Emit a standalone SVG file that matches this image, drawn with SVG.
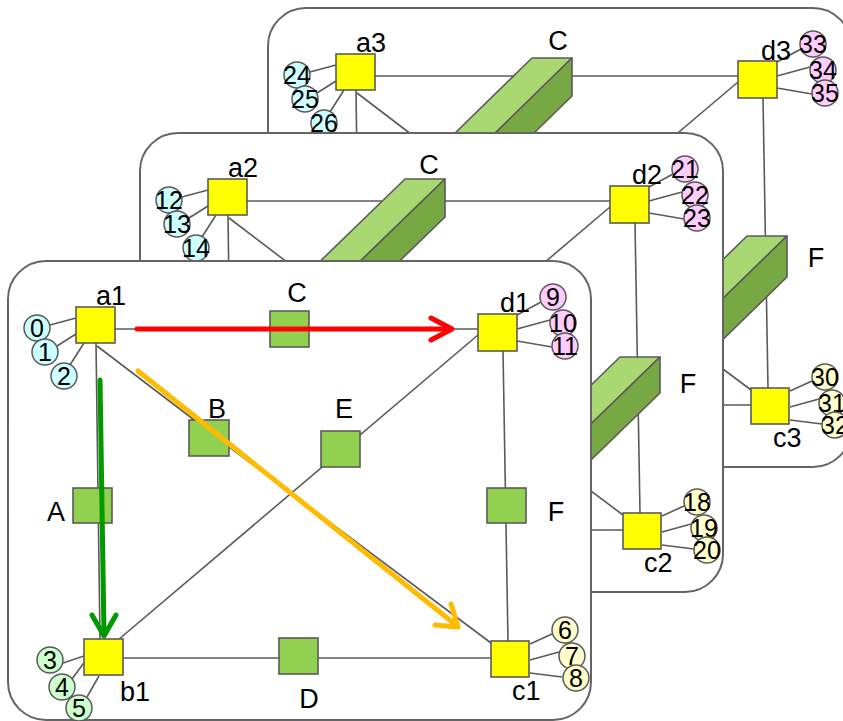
<svg xmlns="http://www.w3.org/2000/svg" width="843" height="721" viewBox="0 0 843 721">
  <style>
    .panel { fill: #ffffff; stroke: #646464; stroke-width: 2; }
    .link { stroke: #5a5a5a; stroke-width: 1.6; fill: none; }
    .sw { fill: #ffff00; stroke: #5a5a5a; stroke-width: 1.6; }
    .blk { fill: #92d050; stroke: #5a5a5a; stroke-width: 1.6; }
    .top { fill: #a9d872; stroke: #5a5a5a; stroke-width: 1.6; stroke-linejoin: round; }
    .side { fill: #77a843; stroke: #5a5a5a; stroke-width: 1.6; stroke-linejoin: round; }
    .host { stroke: #5a5a5a; stroke-width: 1.5; }
    .cy { fill: #ccffff; } .gr { fill: #ccffcc; } .pk { fill: #ffccff; } .yl { fill: #ffffcc; }
    text { font-family: "Liberation Sans", Arial, sans-serif; fill: #000; }
    .lbl { font-size: 27px; }
    .mid { text-anchor: middle; }
    .num { font-size: 25px; text-anchor: middle; }
    .flow { fill: none; stroke-width: 5; stroke-linecap: round; stroke-linejoin: round; }
  </style>

  <!-- ===== Plane 3 (rear) ===== -->
  <g id="plane3">
    <rect class="panel" x="268" y="8" width="583" height="459" rx="38"/>
    <g id="plane3-links">
      <line class="link" x1="375" y1="76" x2="738" y2="76"/>
      <line class="link" x1="356" y1="90" x2="360" y2="386"/>
      <line class="link" x1="357" y1="93" x2="470" y2="179"/>
      <line class="link" x1="480" y1="187" x2="751" y2="390"/>
      <line class="link" x1="738" y1="82" x2="378" y2="387"/>
      <line class="link" x1="763" y1="98" x2="768" y2="388"/>
      <line class="link" x1="383" y1="405" x2="751" y2="405"/>
      <line class="link" x1="310" y1="72" x2="336" y2="65"/>
      <line class="link" x1="317" y1="93" x2="336" y2="81"/>
      <line class="link" x1="330" y1="112" x2="344" y2="90"/>
      <line class="link" x1="777" y1="62" x2="801" y2="49"/>
      <line class="link" x1="777" y1="76" x2="810" y2="67"/>
      <line class="link" x1="777" y1="88" x2="812" y2="94"/>
      <line class="link" x1="790" y1="391" x2="812" y2="381"/>
      <line class="link" x1="790" y1="407" x2="819" y2="399"/>
      <line class="link" x1="790" y1="420" x2="822" y2="424"/>
    </g>
    <g id="C3">
      <polygon class="top" points="532,58 572,58 444,183 404,183"/>
      <polygon class="side" points="572,58 572,96 444,221 444,183"/>
      <text class="lbl mid" x="558" y="50">C</text>
    </g>
    <g id="F3">
      <polygon class="top" points="747,236 787,236 659,361 619,361"/>
      <polygon class="side" points="787,236 787,277 659,402 659,361"/>
      <text class="lbl mid" x="816" y="267">F</text>
    </g>
    <g id="a3"><rect class="sw" x="336" y="54" width="39" height="36"/><text class="lbl" x="356" y="52">a3</text></g>
    <g id="d3"><rect class="sw" x="738" y="61" width="39" height="37"/><text class="lbl" x="761" y="60">d3</text></g>
    <g id="c3"><rect class="sw" x="751" y="388" width="38" height="36"/><text class="lbl" x="773" y="447">c3</text></g>
    <g id="h24"><circle class="host cy" cx="297" cy="75" r="13"/><text class="num" x="297" y="84">24</text></g>
    <g id="h25"><circle class="host cy" cx="305" cy="99" r="13"/><text class="num" x="305" y="108">25</text></g>
    <g id="h26"><circle class="host cy" cx="324" cy="123" r="13"/><text class="num" x="324" y="132">26</text></g>
    <g id="h33"><circle class="host pk" cx="813" cy="44" r="13"/><text class="num" x="813" y="53">33</text></g>
    <g id="h34"><circle class="host pk" cx="823" cy="70" r="13"/><text class="num" x="823" y="79">34</text></g>
    <g id="h35"><circle class="host pk" cx="825" cy="93" r="13"/><text class="num" x="825" y="102">35</text></g>
    <g id="h30"><circle class="host yl" cx="825" cy="377" r="13"/><text class="num" x="825" y="386">30</text></g>
    <g id="h31"><circle class="host yl" cx="832" cy="403" r="13"/><text class="num" x="832" y="412">31</text></g>
    <g id="h32"><circle class="host yl" cx="835" cy="425" r="13"/><text class="num" x="835" y="434">32</text></g>
  </g>

  <!-- ===== Plane 2 (middle) ===== -->
  <g id="plane2">
    <rect class="panel" x="140" y="133" width="583" height="459" rx="38"/>
    <g id="plane2-links">
      <line class="link" x1="247" y1="201" x2="610" y2="201"/>
      <line class="link" x1="228" y1="215" x2="232" y2="511"/>
      <line class="link" x1="229" y1="218" x2="342" y2="304"/>
      <line class="link" x1="352" y1="312" x2="623" y2="515"/>
      <line class="link" x1="610" y1="207" x2="250" y2="512"/>
      <line class="link" x1="635" y1="223" x2="640" y2="513"/>
      <line class="link" x1="255" y1="530" x2="623" y2="530"/>
      <line class="link" x1="182" y1="197" x2="208" y2="190"/>
      <line class="link" x1="189" y1="218" x2="208" y2="206"/>
      <line class="link" x1="202" y1="237" x2="216" y2="215"/>
      <line class="link" x1="649" y1="187" x2="673" y2="174"/>
      <line class="link" x1="649" y1="201" x2="682" y2="192"/>
      <line class="link" x1="649" y1="213" x2="684" y2="219"/>
      <line class="link" x1="662" y1="516" x2="684" y2="506"/>
      <line class="link" x1="662" y1="532" x2="691" y2="524"/>
      <line class="link" x1="662" y1="545" x2="694" y2="549"/>
    </g>
    <g id="C2">
      <polygon class="top" points="405,179 445,179 313,307 273,307"/>
      <polygon class="side" points="445,179 445,217 313,345 313,307"/>
      <text class="lbl mid" x="429" y="174">C</text>
    </g>
    <g id="F2">
      <polygon class="top" points="620,357 660,357 528,485 488,485"/>
      <polygon class="side" points="660,357 660,393 528,521 528,485"/>
      <text class="lbl mid" x="688" y="393">F</text>
    </g>
    <g id="a2"><rect class="sw" x="208" y="179" width="39" height="36"/><text class="lbl" x="228" y="177">a2</text></g>
    <g id="d2"><rect class="sw" x="610" y="186" width="39" height="37"/><text class="lbl" x="632" y="184">d2</text></g>
    <g id="c2"><rect class="sw" x="623" y="513" width="38" height="36"/><text class="lbl" x="644" y="572">c2</text></g>
    <g id="h12"><circle class="host cy" cx="169" cy="200" r="13"/><text class="num" x="169" y="209">12</text></g>
    <g id="h13"><circle class="host cy" cx="177" cy="224" r="13"/><text class="num" x="177" y="233">13</text></g>
    <g id="h14"><circle class="host cy" cx="196" cy="248" r="13"/><text class="num" x="196" y="257">14</text></g>
    <g id="h21"><circle class="host pk" cx="685" cy="169" r="13"/><text class="num" x="685" y="178">21</text></g>
    <g id="h22"><circle class="host pk" cx="695" cy="195" r="13"/><text class="num" x="695" y="204">22</text></g>
    <g id="h23"><circle class="host pk" cx="697" cy="218" r="13"/><text class="num" x="697" y="227">23</text></g>
    <g id="h18"><circle class="host yl" cx="697" cy="502" r="13"/><text class="num" x="697" y="511">18</text></g>
    <g id="h19"><circle class="host yl" cx="704" cy="528" r="13"/><text class="num" x="704" y="537">19</text></g>
    <g id="h20"><circle class="host yl" cx="707" cy="550" r="13"/><text class="num" x="707" y="559">20</text></g>
  </g>

  <!-- ===== Plane 1 (front) ===== -->
  <g id="plane1">
    <rect class="panel" x="8" y="261" width="583" height="459" rx="38"/>
    <g id="plane1-links">
      <line class="link" x1="115" y1="329" x2="478" y2="329"/>
      <line class="link" x1="96" y1="343" x2="100" y2="639"/>
      <line class="link" x1="97" y1="346" x2="210" y2="432"/>
      <line class="link" x1="220" y1="440" x2="491" y2="643"/>
      <line class="link" x1="478" y1="335" x2="118" y2="640"/>
      <line class="link" x1="503" y1="351" x2="508" y2="641"/>
      <line class="link" x1="123" y1="658" x2="491" y2="658"/>
      <line class="link" x1="50" y1="325" x2="76" y2="318"/>
      <line class="link" x1="57" y1="346" x2="76" y2="334"/>
      <line class="link" x1="70" y1="365" x2="84" y2="343"/>
      <line class="link" x1="517" y1="315" x2="541" y2="302"/>
      <line class="link" x1="517" y1="329" x2="550" y2="320"/>
      <line class="link" x1="517" y1="341" x2="552" y2="347"/>
      <line class="link" x1="63" y1="663" x2="84" y2="656"/>
      <line class="link" x1="72" y1="679" x2="86" y2="660"/>
      <line class="link" x1="87" y1="697" x2="99" y2="676"/>
      <line class="link" x1="530" y1="644" x2="552" y2="634"/>
      <line class="link" x1="530" y1="660" x2="559" y2="652"/>
      <line class="link" x1="530" y1="673" x2="562" y2="677"/>
    </g>
    <g id="A"><rect class="blk" x="73" y="488" width="39" height="35"/><text class="lbl mid" x="56" y="521">A</text></g>
    <g id="B"><rect class="blk" x="189" y="420" width="40" height="36"/><text class="lbl mid" x="217" y="418">B</text></g>
    <g id="C1"><rect class="blk" x="270" y="311" width="39" height="36"/><text class="lbl mid" x="297" y="302">C</text></g>
    <g id="D"><rect class="blk" x="279" y="638" width="39" height="36"/><text class="lbl mid" x="309" y="708">D</text></g>
    <g id="E"><rect class="blk" x="321" y="431" width="39" height="36"/><text class="lbl mid" x="344" y="418">E</text></g>
    <g id="F1"><rect class="blk" x="487" y="488" width="39" height="35"/><text class="lbl mid" x="556" y="521">F</text></g>
    <g id="a1"><rect class="sw" x="76" y="307" width="39" height="36"/><text class="lbl" x="96" y="305">a1</text></g>
    <g id="d1"><rect class="sw" x="478" y="314" width="39" height="37"/><text class="lbl" x="500" y="312">d1</text></g>
    <g id="b1"><rect class="sw" x="84" y="639" width="39" height="36"/><text class="lbl" x="120" y="701">b1</text></g>
    <g id="c1"><rect class="sw" x="491" y="641" width="38" height="36"/><text class="lbl" x="512" y="700">c1</text></g>
    <g id="h0"><circle class="host cy" cx="37" cy="328" r="13"/><text class="num" x="37" y="337">0</text></g>
    <g id="h1"><circle class="host cy" cx="45" cy="352" r="13"/><text class="num" x="45" y="361">1</text></g>
    <g id="h2"><circle class="host cy" cx="64" cy="376" r="13"/><text class="num" x="64" y="385">2</text></g>
    <g id="h3"><circle class="host gr" cx="50" cy="660" r="13"/><text class="num" x="50" y="669">3</text></g>
    <g id="h4"><circle class="host gr" cx="62" cy="687" r="13"/><text class="num" x="62" y="696">4</text></g>
    <g id="h5"><circle class="host gr" cx="79" cy="708" r="13"/><text class="num" x="79" y="717">5</text></g>
    <g id="h6"><circle class="host yl" cx="565" cy="630" r="13"/><text class="num" x="565" y="639">6</text></g>
    <g id="h7"><circle class="host yl" cx="572" cy="656" r="13"/><text class="num" x="572" y="665">7</text></g>
    <g id="h8"><circle class="host yl" cx="576" cy="678" r="13"/><text class="num" x="576" y="687">8</text></g>
    <g id="h9"><circle class="host pk" cx="553" cy="297" r="13"/><text class="num" x="553" y="306">9</text></g>
    <g id="h10"><circle class="host pk" cx="563" cy="323" r="13"/><text class="num" x="563" y="332">10</text></g>
    <g id="h11"><circle class="host pk" cx="565" cy="346" r="13"/><text class="num" x="565" y="355">11</text></g>
  </g>

  <!-- ===== Traffic flows ===== -->
  <g id="flows">
    <line class="flow" stroke="#ff0000" x1="137" y1="329" x2="450" y2="329"/>
    <polyline class="flow" stroke="#ff0000" points="431,318 452,329 431,340"/>
    <line class="flow" stroke="#009900" x1="100" y1="380" x2="104" y2="634"/>
    <polyline class="flow" stroke="#009900" points="92,615 104,636 116,615"/>
    <line class="flow" stroke="#ffbb00" x1="138" y1="371" x2="456" y2="625"/>
    <polyline class="flow" stroke="#ffbb00" points="451,604 458,627 435,625"/>
  </g>
</svg>
